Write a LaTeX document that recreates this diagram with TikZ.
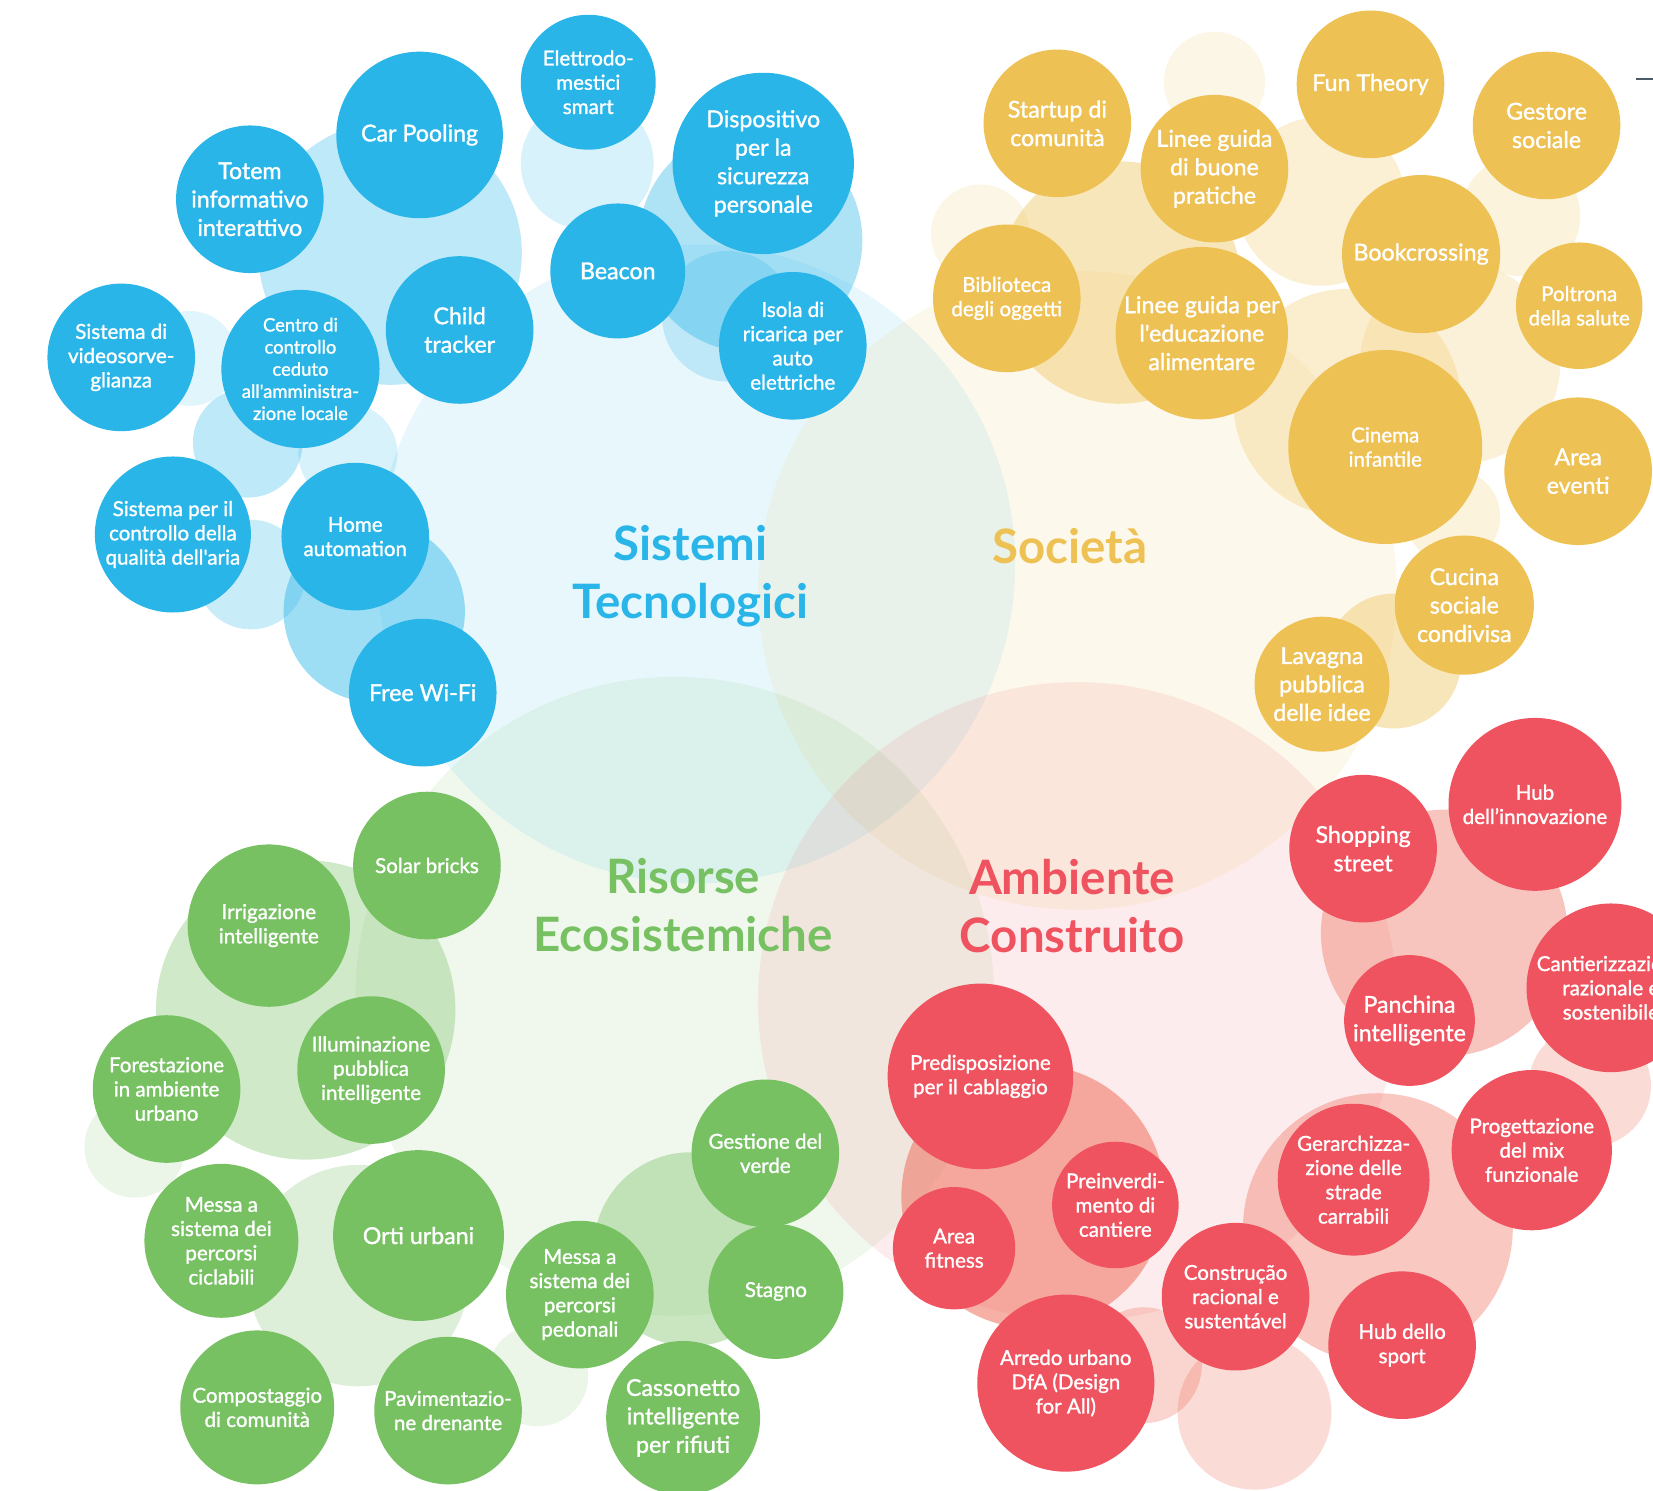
\documentclass[tikz,border=0pt]{standalone}
\usepackage{fontspec}
\setmainfont{Lato}
\newfontfamily\bubfont{Lato}[FakeBold=1.3]
\definecolor{tecno}{HTML}{29B5E8}
\definecolor{soc}{HTML}{EEC154}
\definecolor{eco}{HTML}{77C163}
\definecolor{amb}{HTML}{EF535F}
\definecolor{ambhalo}{HTML}{EE6F5C}
\definecolor{slate}{HTML}{4B5B68}
\tikzset{
  bub/.style={circle,inner sep=0pt,align=center,text=white,font=\bubfont\fontsize{22}{27}\selectfont},
  bubmid/.style={font=\bubfont\fontsize{19.5}{23}\selectfont},
  bubsmall/.style={font=\bubfont\fontsize{17.5}{21}\selectfont},
  grouplabel/.style={align=center,font=\bfseries\fontsize{45}{55}\selectfont},
}
\begin{document}
\begin{tikzpicture}[x=1pt,y=-1pt]
    \useasboundingbox (0,0) rectangle (1568,1414);
    \clip (0,0) rectangle (1568,1414);
    % big circles
    \foreach \c/\x/\y in {tecno/660/535,soc/1022/560,eco/640/945,amb/1022/950}
        \fill[\c,fill opacity=0.11] (\x,\y) circle (303pt);
    % halos
    \foreach \x/\y/\r/\o in {370/240/125/.3,557/155/63/.18,712/228/106/.38,690/300/62/.22,180/340/45/.14,235/420/52/.3,330/430/47/.18,238/545/52/.25,355/580/86/.45}
        \fill[tecno,fill opacity=\o] (\x,\y) circle (\r*1pt);
    \foreach \x/\y/\r/\o in {1152/78/48/.15,930/222/47/.15,1062/268/115/.4,1253/191/80/.25,1442/205/57/.2,1385/345/95/.22,1278/382/108/.28,1322/627/64/.4,1378/490/45/.2}
        \fill[soc,fill opacity=\o] (\x,\y) circle (\r*1pt);
    \foreach \x/\y/\r/\o in {290/958/142/.35,128/1088/48/.15,340/1210/105/.25,655/1185/92/.4,510/1305/48/.15}
        \fill[eco,fill opacity=\o] (\x,\y) circle (\r*1pt);
    \foreach \x/\y/\r/\o in {1370/885/117/.4,1508/1030/58/.25,980/1135/125/.55,1307/1165/128/.38,1190/1340/73/.25,1085/1295/55/.3}
        \fill[ambhalo,fill opacity=\o] (\x,\y) circle (\r*1pt);
    % Sistemi Tecnologici
    \node[bub,bubmid,fill=tecno,minimum size=128pt](elettro)at(558,78){Elettrodo-\\mestici\\smart};
    \node[bub,fill=tecno,minimum size=158pt](carpool)at(398,128){Car Pooling};
    \node[bub,fill=tecno,minimum size=140pt](totem)at(237,189){Totem\\informativo\\interattivo};
    \node[bub,fill=tecno,minimum size=172pt](dispositivo)at(724,155){Dispositivo\\per la\\sicurezza\\personale};
    \node[bub,fill=tecno,minimum size=128pt](beacon)at(586,257){Beacon};
    \node[bub,fill=tecno,minimum size=140pt](child)at(436,313){Child\\tracker};
    \node[bub,bubmid,fill=tecno,minimum size=140pt](isola)at(752,328){Isola di\\ricarica per\\auto\\elettriche};
    \node[bub,bubmid,fill=tecno,minimum size=140pt](video)at(115,339){Sistema di\\videosorve-\\glianza};
    \node[bub,bubsmall,fill=tecno,minimum size=150pt](centro)at(285,350){Centro di\\controllo\\ceduto\\all'amministra-\\zione locale};
    \node[bub,bubmid,fill=tecno,minimum size=148pt](aria)at(164,507){Sistema per il\\controllo della\\qualità dell'aria};
    \node[bub,bubmid,fill=tecno,minimum size=140pt](home)at(337,509){Home\\automation};
    \node[bub,fill=tecno,minimum size=140pt](wifi)at(401,657){Free Wi-Fi};
    % Societa
    \node[bub,fill=soc,minimum size=140pt](startup)at(1003,117){Startup di\\comunità};
    \node[bub,fill=soc,minimum size=140pt](funtheory)at(1300,80){Fun Theory};
    \node[bub,fill=soc,minimum size=140pt](buone)at(1152,160){Linee guida\\di buone\\pratiche};
    \node[bub,fill=soc,minimum size=140pt](gestore)at(1467,119){Gestore\\sociale};
    \node[bub,fill=soc,minimum size=150pt](bookcross)at(1348,241){Bookcrossing};
    \node[bub,bubmid,fill=soc,minimum size=140pt](biblioteca)at(955,283){Biblioteca\\degli oggetti};
    \node[bub,fill=soc,minimum size=160pt](educazione)at(1140,316){Linee guida per\\l'educazione\\alimentare};
    \node[bub,bubmid,fill=soc,minimum size=120pt](poltrona)at(1498,290){Poltrona\\della salute};
    \node[bub,bubmid,fill=soc,minimum size=184pt](cinema)at(1314,424){Cinema\\infantile};
    \node[bub,fill=soc,minimum size=140pt](areaeventi)at(1497,447){Area\\eventi};
    \node[bub,fill=soc,minimum size=132pt](cucina)at(1389,574){Cucina\\sociale\\condivisa};
    \node[bub,fill=soc,minimum size=128pt](lavagna)at(1254,649){Lavagna\\pubblica\\delle idee};
    % Risorse Ecosistemiche
    \node[bub,bubmid,fill=eco,minimum size=140pt](solar)at(405,821){Solar bricks};
    \node[bub,bubmid,fill=eco,minimum size=154pt](irrigazione)at(255,878){Irrigazione\\intelligente};
    \node[bub,bubmid,fill=eco,minimum size=140pt](forestazione)at(158,1033){Forestazione\\in ambiente\\urbano};
    \node[bub,bubmid,fill=eco,minimum size=140pt](illuminazione)at(352,1015){Illuminazione\\pubblica\\intelligente};
    \node[bub,bubmid,fill=eco,minimum size=140pt](gestione)at(726,1094){Gestione del\\verde};
    \node[bub,bubmid,fill=eco,minimum size=146pt](ciclabili)at(210,1177){Messa a\\sistema dei\\percorsi\\ciclabili};
    \node[bub,fill=eco,minimum size=162pt](orti)at(397,1172){Orti urbani};
    \node[bub,bubmid,fill=eco,minimum size=140pt](pedonali)at(550,1228){Messa a\\sistema dei\\percorsi\\pedonali};
    \node[bub,bubmid,fill=eco,minimum size=128pt](stagno)at(736,1225){Stagno};
    \node[bub,bubmid,fill=eco,minimum size=146pt](compost)at(244,1335){Compostaggio\\di comunità};
    \node[bub,bubmid,fill=eco,minimum size=140pt](pavim)at(425,1338){Pavimentazio-\\ne drenante};
    \node[bub,fill=eco,minimum size=146pt](cassonetto)at(648,1345){Cassonetto\\intelligente\\per rifiuti};
    % Ambiente Construito
    \node[bub,bubmid,fill=amb,minimum size=164pt](hubinnov)at(1456,763){Hub\\dell’innovazione};
    \node[bub,fill=amb,minimum size=140pt](shopping)at(1293,805){Shopping\\street};
    \node[bub,bubmid,fill=amb,minimum size=160pt](cantier)at(1528,937){Cantierizzazione\\razionale e\\sostenibile};
    \node[bub,fill=amb,minimum size=124pt](panchina)at(1337,968){Panchina\\intelligente};
    \node[bub,bubmid,fill=amb,minimum size=176pt](cablaggio)at(930,1021){Predisposizione\\per il cablaggio};
    \node[bub,bubmid,fill=amb,minimum size=152pt](mix)at(1453,1091){Progettazione\\del mix\\funzionale};
    \node[bub,bubmid,fill=amb,minimum size=144pt](strade)at(1284,1119){Gerarchizza-\\zione delle\\strade\\carrabili};
    \node[bub,bubmid,fill=amb,minimum size=120pt](preinverd)at(1058,1143){Preinverdi-\\mento di\\cantiere};
    \node[bub,bubmid,fill=amb,minimum size=116pt](fitness)at(905,1184){Area\\fitness};
    \node[bub,bubmid,fill=amb,minimum size=140pt](construcao)at(1172,1230){Construção\\racional e\\sustentável};
    \node[bub,bubmid,fill=amb,minimum size=140pt](hubsport)at(1330,1276){Hub dello\\sport};
    \node[bub,bubmid,fill=amb,minimum size=168pt](arredo)at(1011,1312){Arredo urbano\\DfA (Design\\for All)};
    % group labels
    \node[grouplabel,text=tecno](tecnolabel)at(655,547){Sistemi\\Tecnologici};
    \node[grouplabel,text=soc](soclabel)at(1015,518){Società};
    \node[grouplabel,text=eco](ecolabel)at(648,859){Risorse\\Ecosistemiche};
    \node[grouplabel,text=amb](amblabel)at(1017,859){Ambiente\\Construito};
    \draw[slate,line width=2pt](1552,75)--(1568,75);
\end{tikzpicture}
\end{document}
